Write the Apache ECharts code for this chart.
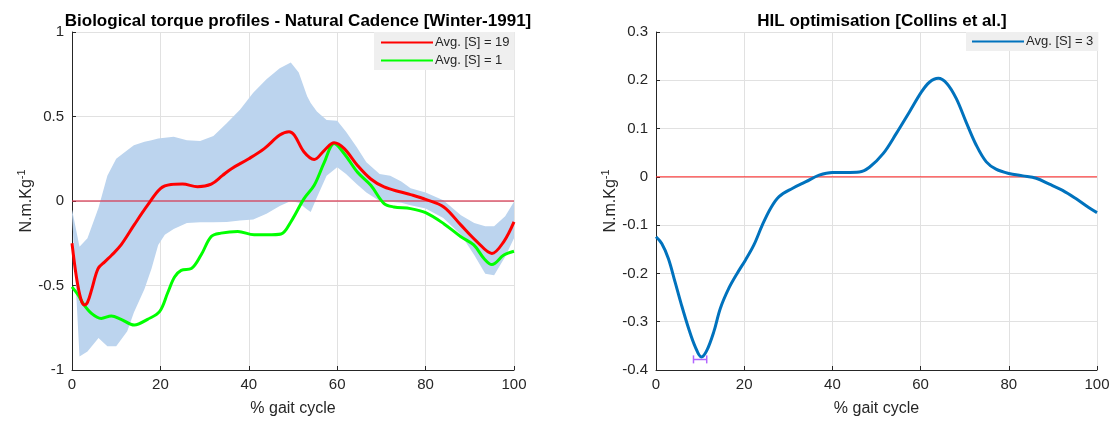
<!DOCTYPE html>
<html>
<head>
<meta charset="utf-8">
<script src="https://cdn.jsdelivr.net/npm/echarts@6/dist/echarts.min.js"></script>
<style>
html,body{margin:0;padding:0;background:#fff;}
#c{width:1120px;height:423px;}
</style>
</head>
<body>
<div id="c"></div>
<script>
// ---------- Data ----------
const leftTitle = 'Biological torque profiles - Natural Cadence [Winter-1991]';
const rightTitle = 'HIL optimisation [Collins et al.]';
const xTicks = [0, 20, 40, 60, 80, 100];
const leftYTicks = [-1, -0.5, 0, 0.5, 1];
const rightYTicks = [-0.4, -0.3, -0.2, -0.1, 0, 0.1, 0.2, 0.3];

// Zero reference line
const zeroX = [0, 100];
const zeroY = [0, 0];

// Band (spread of biological profiles)
const bandX =     [0, 1.7, 3.5, 6, 8, 10, 12.5, 14, 16.4, 18, 19.5, 21, 23, 26, 29, 32, 35, 38, 41, 44, 47, 49.5, 51.3, 53.2, 54, 55.4, 57.6, 60, 62, 64.4, 66.6, 69.6, 72, 74.5, 76.6, 80, 84, 88, 91, 93.5, 95.5, 98, 100];
const bandUpper = [-0.05, -0.27, -0.22, -0.04, 0.15, 0.25, 0.30, 0.33, 0.35, 0.36, 0.37, 0.375, 0.38, 0.36, 0.355, 0.385, 0.46, 0.54, 0.64, 0.72, 0.785, 0.82, 0.76, 0.62, 0.58, 0.53, 0.48, 0.475, 0.41, 0.32, 0.23, 0.16, 0.15, 0.115, 0.075, 0.05, 0.005, -0.085, -0.13, -0.15, -0.15, -0.09, -0.005];
const bandLower = [-0.07, -0.92, -0.89, -0.81, -0.86, -0.86, -0.77, -0.66, -0.52, -0.40, -0.26, -0.20, -0.165, -0.13, -0.125, -0.125, -0.124, -0.115, -0.11, -0.075, -0.03, 0.0, -0.01, -0.05, -0.065, 0.02, 0.15, 0.20, 0.16, 0.10, 0.05, 0.0, -0.005, -0.01, -0.025, -0.045, -0.10, -0.20, -0.32, -0.43, -0.44, -0.33, -0.22];

// Avg. [S] = 19 (red)
const redX = [0, 1, 2, 2.8, 3.5, 4.5, 5.9, 7.4, 9, 11.1, 14.1, 17.1, 20, 22.4, 25, 28.4, 31.5, 34, 36, 40, 43.5, 47, 49.1, 50.3, 52.5, 54.8, 57.1, 59.3, 61.6, 64.6, 67.6, 70.6, 74.4, 76.6, 80, 84.1, 87.9, 91.6, 95, 97.7, 100];
const redY = [-0.25, -0.45, -0.58, -0.615, -0.6, -0.52, -0.40, -0.36, -0.32, -0.26, -0.14, -0.025, 0.073, 0.097, 0.10, 0.085, 0.10, 0.15, 0.19, 0.25, 0.31, 0.39, 0.41, 0.39, 0.29, 0.246, 0.30, 0.345, 0.31, 0.21, 0.13, 0.083, 0.053, 0.038, 0.01, -0.035, -0.14, -0.24, -0.31, -0.24, -0.124];

// Avg. [S] = 1 (green)
const greenX = [0, 1.5, 2.5, 4.4, 6.6, 8.9, 11.1, 14.1, 17.1, 19.8, 21.7, 23.2, 24.7, 27, 29.2, 31.5, 33.7, 37.5, 41.2, 44.2, 47.3, 49.5, 52.5, 54.8, 57.1, 59.3, 61.6, 64.6, 67.6, 70.6, 72.8, 76.6, 80, 84.1, 87.9, 90.9, 93.2, 95, 97.7, 100];
const greenY = [-0.508, -0.56, -0.606, -0.665, -0.695, -0.68, -0.70, -0.734, -0.70, -0.655, -0.54, -0.45, -0.41, -0.40, -0.32, -0.21, -0.19, -0.18, -0.20, -0.20, -0.195, -0.124, 0.014, 0.093, 0.23, 0.34, 0.28, 0.17, 0.093, -0.015, -0.035, -0.045, -0.069, -0.134, -0.21, -0.26, -0.34, -0.376, -0.32, -0.297];

// Avg. [S] = 3 (blue, HIL)
const blueX = [0, 1.3, 2.8, 4.3, 5.8, 7.4, 8.9, 10.3, 11.5, 13.1, 14.6, 16.5, 18.4, 20.3, 22.2, 24.1, 26, 27.9, 30.9, 34, 37, 40, 43.1, 46.1, 48.4, 51.5, 54.5, 57.5, 60.2, 62, 64, 66, 68.1, 70.3, 72.6, 74.9, 77.1, 80, 83.2, 86.2, 89.2, 92.2, 95.2, 98.2, 100];
const blueY = [-0.124, -0.138, -0.169, -0.217, -0.266, -0.314, -0.352, -0.373, -0.36, -0.321, -0.272, -0.231, -0.2, -0.172, -0.141, -0.1, -0.065, -0.041, -0.024, -0.010, 0.0035, 0.009, 0.009, 0.01, 0.02, 0.048, 0.09, 0.135, 0.176, 0.196, 0.204, 0.193, 0.162, 0.114, 0.066, 0.031, 0.016, 0.007, 0.002, -0.003, -0.015, -0.028, -0.045, -0.064, -0.074];

// Error bar at the minimum (purple)
const errX = [8.5, 11.5];
const errY = [-0.378, -0.378];

const legendLeft = ['Avg. [S] = 19', 'Avg. [S] = 1'];
const legendRight = ['Avg. [S] = 3'];

// ---------- Chart ----------
const zip = (xs, ys) => xs.map((x, i) => [x, ys[i]]);
const FONT = '"Liberation Sans", Arial, Helvetica, sans-serif';
const TXT = '#262626';

function xAxisCfg(gi) {
  return {
    type: 'value', gridIndex: gi, min: 0, max: 100, interval: 20,
    name: '% gait cycle', nameLocation: 'middle', nameGap: 31,
    nameTextStyle: { fontFamily: FONT, fontSize: 16, color: TXT },
    axisLine: { show: true, onZero: false, lineStyle: { color: TXT, width: 1 } },
    axisTick: { show: true, inside: true, length: 4, lineStyle: { color: TXT } },
    axisLabel: { fontFamily: FONT, fontSize: 15, color: TXT, margin: 7 },
    splitLine: { show: true, lineStyle: { color: '#e1e1e1', width: 1 } }
  };
}
function yAxisCfg(gi, min, max, interval) {
  return {
    type: 'value', gridIndex: gi, min: min, max: max, interval: interval,
    name: '{a|N.m.Kg}{s|-1}', nameLocation: 'middle', nameGap: 32, nameRotate: 90,
    nameTextStyle: {
      rich: {
        a: { fontFamily: FONT, fontSize: 16, color: TXT },
        s: { fontFamily: FONT, fontSize: 11, color: TXT, verticalAlign: 'top', padding: [0, 0, 8, 0] }
      }
    },
    axisLine: { show: true, onZero: false, lineStyle: { color: TXT, width: 1 } },
    axisTick: { show: true, inside: true, length: 4, lineStyle: { color: TXT } },
    axisLabel: { fontFamily: FONT, fontSize: 15, color: TXT, margin: 8,
      formatter: v => String(Math.round(v * 10) / 10) },
    splitLine: { show: true, lineStyle: { color: '#e1e1e1', width: 1 } }
  };
}

const chart = echarts.init(document.getElementById('c'), null, { renderer: 'canvas' });

const legendBase = {
  orient: 'vertical', backgroundColor: '#efefef', itemGap: 5,
  itemWidth: 52, itemHeight: 12,
  itemStyle: { opacity: 0 },
  textStyle: { fontFamily: FONT, fontSize: 13, color: TXT, padding: [0, 0, 0, -3] }
};

const option = {
  animation: false,
  backgroundColor: '#ffffff',
  title: [
    { text: leftTitle, left: 293, top: 8, textAlign: 'center',
      textStyle: { fontFamily: FONT, fontSize: 17, fontWeight: 'bold', color: '#000' } },
    { text: rightTitle, left: 877, top: 8, textAlign: 'center',
      textStyle: { fontFamily: FONT, fontSize: 17, fontWeight: 'bold', color: '#000' } }
  ],
  grid: [
    { left: 72, right: 606, top: 32, bottom: 53, containLabel: false },
    { left: 656, right: 23, top: 32, bottom: 53, containLabel: false }
  ],
  xAxis: [xAxisCfg(0), xAxisCfg(1)],
  yAxis: [yAxisCfg(0, -1, 1, 0.5), yAxisCfg(1, -0.4, 0.3, 0.1)],
  legend: [
    Object.assign({}, legendBase, { data: legendLeft, left: 374, top: 32, padding: [4, 5, 3, 6] }),
    Object.assign({}, legendBase, { data: legendRight, left: 966, top: 32, padding: [3, 5, 3, 5] })
  ],
  series: [
    {
      name: 'band', type: 'custom', xAxisIndex: 0, yAxisIndex: 0, silent: true, z: 1,
      data: [0],
      renderItem: function (params, api) {
        const pts = [];
        for (let i = 0; i < bandX.length; i++) pts.push(api.coord([bandX[i], bandUpper[i]]));
        for (let i = bandX.length - 1; i >= 0; i--) pts.push(api.coord([bandX[i], bandLower[i]]));
        return { type: 'polygon', shape: { points: pts, smooth: 0 },
          style: { fill: '#bcd4ee', stroke: null } };
      }
    },
    {
      name: 'zeroL', type: 'line', xAxisIndex: 0, yAxisIndex: 0, z: 2, silent: true,
      data: zip(zeroX, zeroY), symbol: 'none',
      lineStyle: { color: 'rgba(215,50,75,0.6)', width: 2 }
    },
    {
      name: 'Avg. [S] = 19', type: 'line', xAxisIndex: 0, yAxisIndex: 0, z: 4,
      data: zip(redX, redY), smooth: 0.35, symbol: 'none',
      lineStyle: { color: '#ff0000', width: 3 }, itemStyle: { color: '#ff0000' }
    },
    {
      name: 'Avg. [S] = 1', type: 'line', xAxisIndex: 0, yAxisIndex: 0, z: 3,
      data: zip(greenX, greenY), smooth: 0.35, symbol: 'none',
      lineStyle: { color: '#00ff00', width: 3 }, itemStyle: { color: '#00ff00' }
    },
    {
      name: 'zeroR', type: 'line', xAxisIndex: 1, yAxisIndex: 1, z: 2, silent: true,
      data: zip(zeroX, zeroY), symbol: 'none',
      lineStyle: { color: '#ff2020', width: 1 }
    },
    {
      name: 'Avg. [S] = 3', type: 'line', xAxisIndex: 1, yAxisIndex: 1, z: 3,
      data: zip(blueX, blueY), smooth: 0.35, symbol: 'none',
      lineStyle: { color: '#0072bd', width: 3 }, itemStyle: { color: '#0072bd' }
    },
    {
      name: 'err', type: 'line', xAxisIndex: 1, yAxisIndex: 1, z: 4, silent: true,
      data: zip(errX, errY), symbol: 'rect', symbolSize: [1.5, 8], showSymbol: true,
      lineStyle: { color: '#b266ff', width: 1.5 }, itemStyle: { color: '#b266ff' }
    }
  ]
};
chart.setOption(option);
</script>
</body>
</html>
